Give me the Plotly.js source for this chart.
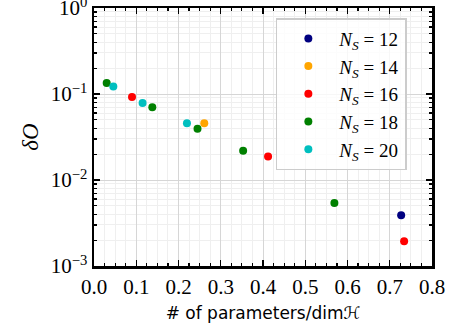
<!DOCTYPE html>
<html><head><meta charset="utf-8">
<script src="https://cdn.plot.ly/plotly-3.0.1.min.js"></script>
<style>html,body{margin:0;padding:0;background:#fff}#plot{width:451px;height:328px}</style>
</head><body><div id="plot"></div>
<script>
const seriesNames = ["<i>N<sub>S</sub></i> = 12","<i>N<sub>S</sub></i> = 14","<i>N<sub>S</sub></i> = 16","<i>N<sub>S</sub></i> = 18","<i>N<sub>S</sub></i> = 20"];
const seriesColors = ["#000080","#FFA500","#FF0000","#008000","#00BFBF"];
const x12 = [0.727];           const y12 = [0.0039];
const x14 = [0.261];           const y14 = [0.0456];
const x16 = [0.090, 0.412, 0.734]; const y16 = [0.092, 0.0187, 0.00194];
const x18 = [0.030, 0.138, 0.245, 0.353, 0.569]; const y18 = [0.134, 0.070, 0.0395, 0.0219, 0.0054];
const x20 = [0.0457, 0.115, 0.220]; const y20 = [0.122, 0.0786, 0.0456];
const xTickVals = [0,0.1,0.2,0.3,0.4,0.5,0.6,0.7,0.8];
const yTickVals = [0.001,0.01,0.1,1];
const yTickText = ["10<sup>\u22123</sup>","10<sup>\u22122</sup>","10<sup>\u22121</sup>","10<sup>0</sup>"];

const yMinor = [];
[0.001,0.01,0.1].forEach(d=>{for(let k=2;k<=9;k++) yMinor.push(d*k);});
const xs=[x12,x14,x16,x18,x20], ys=[y12,y14,y16,y18,y20];
const traces = xs.map((x,i)=>({x:x,y:ys[i],type:'scatter',mode:'markers',name:seriesNames[i],
  marker:{color:seriesColors[i],size:8}}));
const font = {family:'"Liberation Serif", "DejaVu Serif", serif', size:21, color:'#000'};
const layout = {
  width:451, height:328, margin:{l:94,r:19,t:8,b:62},
  paper_bgcolor:'#fff', plot_bgcolor:'#fff', font:font, showlegend:true,
  xaxis:{range:[0,0.8], tickvals:xTickVals, tickformat:'.1f', ticks:'inside', ticklen:6, tickwidth:1.2, tickcolor:'#000',
    showline:true, linewidth:2.5, linecolor:'#000', mirror:'ticks', showgrid:true, gridcolor:'#d6d6d6', gridwidth:1,
    zeroline:false, tickfont:font, ticklabeloverflow:'allow',
    minor:{tickmode:'linear', tick0:0, dtick:0.025, ticks:'inside', ticklen:3, tickcolor:'#000', showgrid:true, gridcolor:'#efefef'},
    title:{text:'# of parameters/dim\u210B', font:{family:'"DejaVu Sans", sans-serif', size:17, color:'#000'}, standoff:10}},
  yaxis:{type:'log', range:[-3,0], tickvals:yTickVals, ticktext:yTickText, ticks:'inside', ticklen:6, tickwidth:1.2, tickcolor:'#000',
    showline:true, linewidth:2.5, linecolor:'#000', mirror:'ticks', showgrid:true, gridcolor:'#d6d6d6',
    zeroline:false, tickfont:font, ticklabeloverflow:'allow',
    minor:{tickmode:'array', tickvals:yMinor, ticks:'inside', ticklen:3, tickcolor:'#000', showgrid:true, gridcolor:'#efefef'},
    title:{text:'<i>\u03B4O</i>', font:{family:'"Liberation Serif", serif', size:23, color:'#000'}, standoff:6}},
  legend:{x:0.538, y:0.961, xanchor:'left', yanchor:'top', bgcolor:'rgba(255,255,255,0.8)',
    bordercolor:'#cccccc', borderwidth:1.5, font:{family:'"Liberation Serif", serif', size:19, color:'#000'},
    itemwidth:52, tracegroupgap:0, entrywidth:140, entrywidthmode:'pixels'}
};
Plotly.newPlot('plot', traces, layout, {staticPlot:true, displayModeBar:false});
</script></body></html>
